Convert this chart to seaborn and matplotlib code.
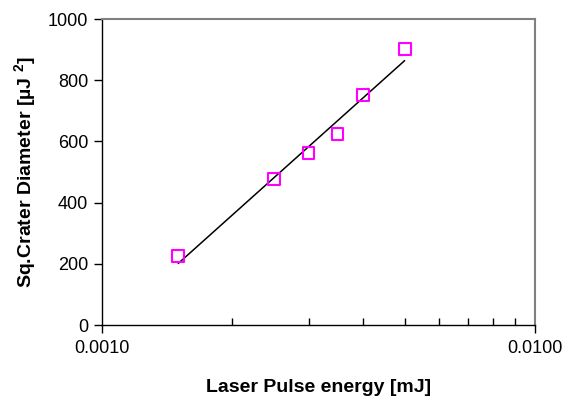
import numpy as np
import pandas as pd
import matplotlib
matplotlib.use("Agg")
import matplotlib.pyplot as plt
import matplotlib.ticker as mticker
import seaborn as sns

# Data
energy = [0.0015, 0.0025, 0.0030, 0.0035, 0.0040, 0.0050]
sq_diam = [225, 476, 562, 623, 751, 902]

sns.set_theme(style="white")
plt.rcParams['font.family'] = ['Liberation Sans', 'DejaVu Sans']
plt.rcParams['text.color'] = 'black'
plt.rcParams['axes.labelcolor'] = 'black'
plt.rcParams['xtick.color'] = 'black'
plt.rcParams['ytick.color'] = 'black'
plt.rcParams['mathtext.fontset'] = 'custom'
plt.rcParams['mathtext.rm'] = 'Liberation Sans:bold'
plt.rcParams['mathtext.bf'] = 'Liberation Sans:bold'

df = pd.DataFrame({"energy": energy, "sq": sq_diam})

fig = plt.figure(figsize=(5.78, 3.98), dpi=100)
ax = fig.add_axes([102/578, 1-325/398, (535-102)/578, (325-19)/398])
ax.set_xscale("log")

# logarithmic trendline fitted from the data
coef = np.polyfit(np.log10(df["energy"]), df["sq"], 1)
xs = np.logspace(np.log10(min(energy)), np.log10(max(energy)), 50)
trend = pd.DataFrame({"energy": xs, "sq": np.polyval(coef, np.log10(xs))})
sns.lineplot(data=trend, x="energy", y="sq", ax=ax, color="black", linewidth=1.1)

sns.scatterplot(data=df, x="energy", y="sq", ax=ax, marker="s", s=72,
                facecolor="none", edgecolor="#FF00FF", linewidth=1.5, zorder=3)

ax.set_xlim(0.001, 0.01)
ax.set_ylim(0, 1000)
ax.set_yticks([0, 200, 400, 600, 800, 1000])
ax.xaxis.set_major_locator(mticker.FixedLocator([0.001, 0.01]))
ax.xaxis.set_major_formatter(mticker.FormatStrFormatter('%.4f'))
ax.xaxis.set_minor_locator(mticker.LogLocator(base=10, subs=np.arange(2, 10)))
ax.xaxis.set_minor_formatter(mticker.NullFormatter())

ax.tick_params(axis="y", which="major", direction="out", length=6, width=1,
               color="black", labelcolor="black", labelsize=13, pad=4, left=True)
ax.tick_params(axis="x", which="major", direction="out", length=6, width=1,
               color="black", labelcolor="black", labelsize=13, pad=5, bottom=True)
ax.tick_params(axis="x", which="minor", direction="in", length=5, width=1,
               color="black", bottom=True)

for side in ["left", "bottom"]:
    ax.spines[side].set_color("black")
    ax.spines[side].set_linewidth(1.0)
for side in ["top", "right"]:
    ax.spines[side].set_color("#808080")
    ax.spines[side].set_linewidth(1.5)
    ax.spines[side].set_visible(True)

ax.set_xlabel("Laser Pulse energy [mJ]", fontsize=14, fontweight="bold",
              labelpad=16, color="black")
ax.set_ylabel("Sq.Crater Diameter [µJ $^{2}$]", fontsize=14, fontweight="bold",
              labelpad=6, color="black")
ax.grid(False)

fig.savefig("out.png", dpi=100, facecolor="white")
